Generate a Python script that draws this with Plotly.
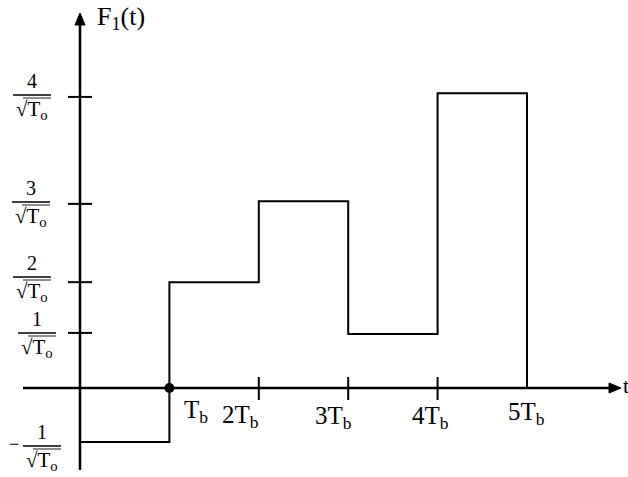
import plotly.graph_objects as go

# ---- data (heights are as drawn on the schematic) ----
edges_t = [0, 1, 2, 3, 4, 5]                    # multiples of T_b
level_heights = [-1.0, 1.96, 3.46, 1.0, 5.46]  # drawn heights of the steps
ytick_heights = [5.39, 3.41, 1.96, 1.02, -1.0]
ytick_nums = ["4", "3", "2", "1", "1"]
xtick_vals = [1, 2, 3, 4, 5]
xtick_labels = ["T<sub>b</sub>", "2T<sub>b</sub>", "3T<sub>b</sub>", "4T<sub>b</sub>", "5T<sub>b</sub>"]

W, H = 628, 477
X0, UX = 80.0, 89.4   # pixel of t=0, pixels per T_b
Y0, UY = 388.0, 54.0  # pixel of F=0, pixels per unit


def dx(px):
    return (px - X0) / UX


def dy(py):
    return (Y0 - py) / UY


FONT = "Liberation Serif"
BLACK = "#000000"

# step function trace
xs = edges_t[:-1] + [edges_t[-1], edges_t[-1]]
ys = level_heights + [level_heights[-1], 0]

fig = go.Figure()
fig.add_trace(go.Scatter(x=xs, y=ys, mode="lines", line=dict(shape="hv", color=BLACK, width=2),
                         hoverinfo="skip", showlegend=False))
fig.add_trace(go.Scatter(x=[edges_t[1]], y=[0], mode="markers",
                         marker=dict(size=10, color=BLACK), hoverinfo="skip", showlegend=False))

shapes = []
annotations = []

# axes lines
shapes.append(dict(type="line", xref="x", yref="y", x0=dx(23), x1=dx(612), y0=0, y1=0,
                   line=dict(color=BLACK, width=2.5)))
shapes.append(dict(type="line", xref="x", yref="y", x0=0, x1=0, y0=dy(470), y1=dy(22),
                   line=dict(color=BLACK, width=2.5)))
# arrow heads
shapes.append(dict(type="path", xref="x", yref="y", fillcolor=BLACK, line=dict(color=BLACK, width=1),
                   path=f"M{dx(609)},{dy(383)} L{dx(621)},{dy(388)} L{dx(609)},{dy(393)} Z"))
shapes.append(dict(type="path", xref="x", yref="y", fillcolor=BLACK, line=dict(color=BLACK, width=1),
                   path=f"M{dx(75)},{dy(25)} L{dx(80)},{dy(13)} L{dx(85)},{dy(25)} Z"))
# axis titles
annotations.append(dict(x=0, y=dy(18), xref="x", yref="y", xshift=15, text="F<sub>1</sub>(t)",
                        showarrow=False, xanchor="left", yanchor="middle",
                        font=dict(family=FONT, size=26, color=BLACK)))
annotations.append(dict(x=dx(621), y=0, xref="x", yref="y", text="t", showarrow=False,
                        xanchor="left", yanchor="middle", yshift=3,
                        font=dict(family=FONT, size=22, color=BLACK)))

# x ticks (crossing the axis) at 2,3,4
for v in xtick_vals[1:4]:
    shapes.append(dict(type="line", xref="x", yref="y", x0=v, x1=v, y0=dy(377), y1=dy(400),
                       line=dict(color=BLACK, width=2)))
# x tick labels
x_label_shift = [27, -18, -15, -7, -1]
x_label_y = [411, 416, 417, 417, 413]
for v, lab, sh, py in zip(xtick_vals, xtick_labels, x_label_shift, x_label_y):
    annotations.append(dict(x=v, y=dy(py), xref="x", yref="y", xshift=sh, text=lab,
                            showarrow=False, xanchor="center", yanchor="middle",
                            font=dict(family=FONT, size=25, color=BLACK)))

# y ticks (crossing the axis), none at the negative level
for v in ytick_heights[:4]:
    shapes.append(dict(type="line", xref="x", yref="y", x0=dx(68), x1=dx(92), y0=v, y1=v,
                       line=dict(color=BLACK, width=2)))

# y tick labels as stacked fractions k / sqrt(T_o)
bar_px = [95, 202, 277, 333, 446]
center_px = [32, 31, 32, 37, 42]
for num, bpx, cpx in zip(ytick_nums, bar_px, center_px):
    yb = dy(bpx)
    annotations.append(dict(x=dx(cpx), y=dy(bpx - 14), xref="x", yref="y", text=num,
                            showarrow=False, xanchor="center", yanchor="middle",
                            font=dict(family=FONT, size=20, color=BLACK)))
    shapes.append(dict(type="line", xref="x", yref="y", x0=dx(cpx - 19), x1=dx(cpx + 19),
                       y0=yb, y1=yb, line=dict(color=BLACK, width=1.5)))
    annotations.append(dict(x=dx(cpx), y=dy(bpx + 15), xref="x", yref="y",
                            text="√T<sub>o</sub>", showarrow=False, xanchor="center",
                            yanchor="middle", font=dict(family=FONT, size=21, color=BLACK)))
    shapes.append(dict(type="line", xref="x", yref="y", x0=dx(cpx - 9), x1=dx(cpx + 19),
                       y0=dy(bpx + 3), y1=dy(bpx + 3), line=dict(color="#444444", width=1.2)))
# minus sign of the negative label
annotations.append(dict(x=dx(14), y=dy(444), xref="x", yref="y", text="−", showarrow=False,
                        xanchor="center", yanchor="middle",
                        font=dict(family=FONT, size=18, color=BLACK)))

fig.update_layout(
    width=W, height=H, autosize=False,
    margin=dict(l=0, r=0, t=0, b=0),
    paper_bgcolor="white", plot_bgcolor="white",
    xaxis=dict(range=[dx(0), dx(W)], visible=False, fixedrange=True),
    yaxis=dict(range=[dy(H), dy(0)], visible=False, fixedrange=True),
    shapes=shapes, annotations=annotations,
)

fig.write_html("out.html", config={"displayModeBar": False},
               post_script="document.body.style.margin='0';document.body.style.overflow='hidden';")
